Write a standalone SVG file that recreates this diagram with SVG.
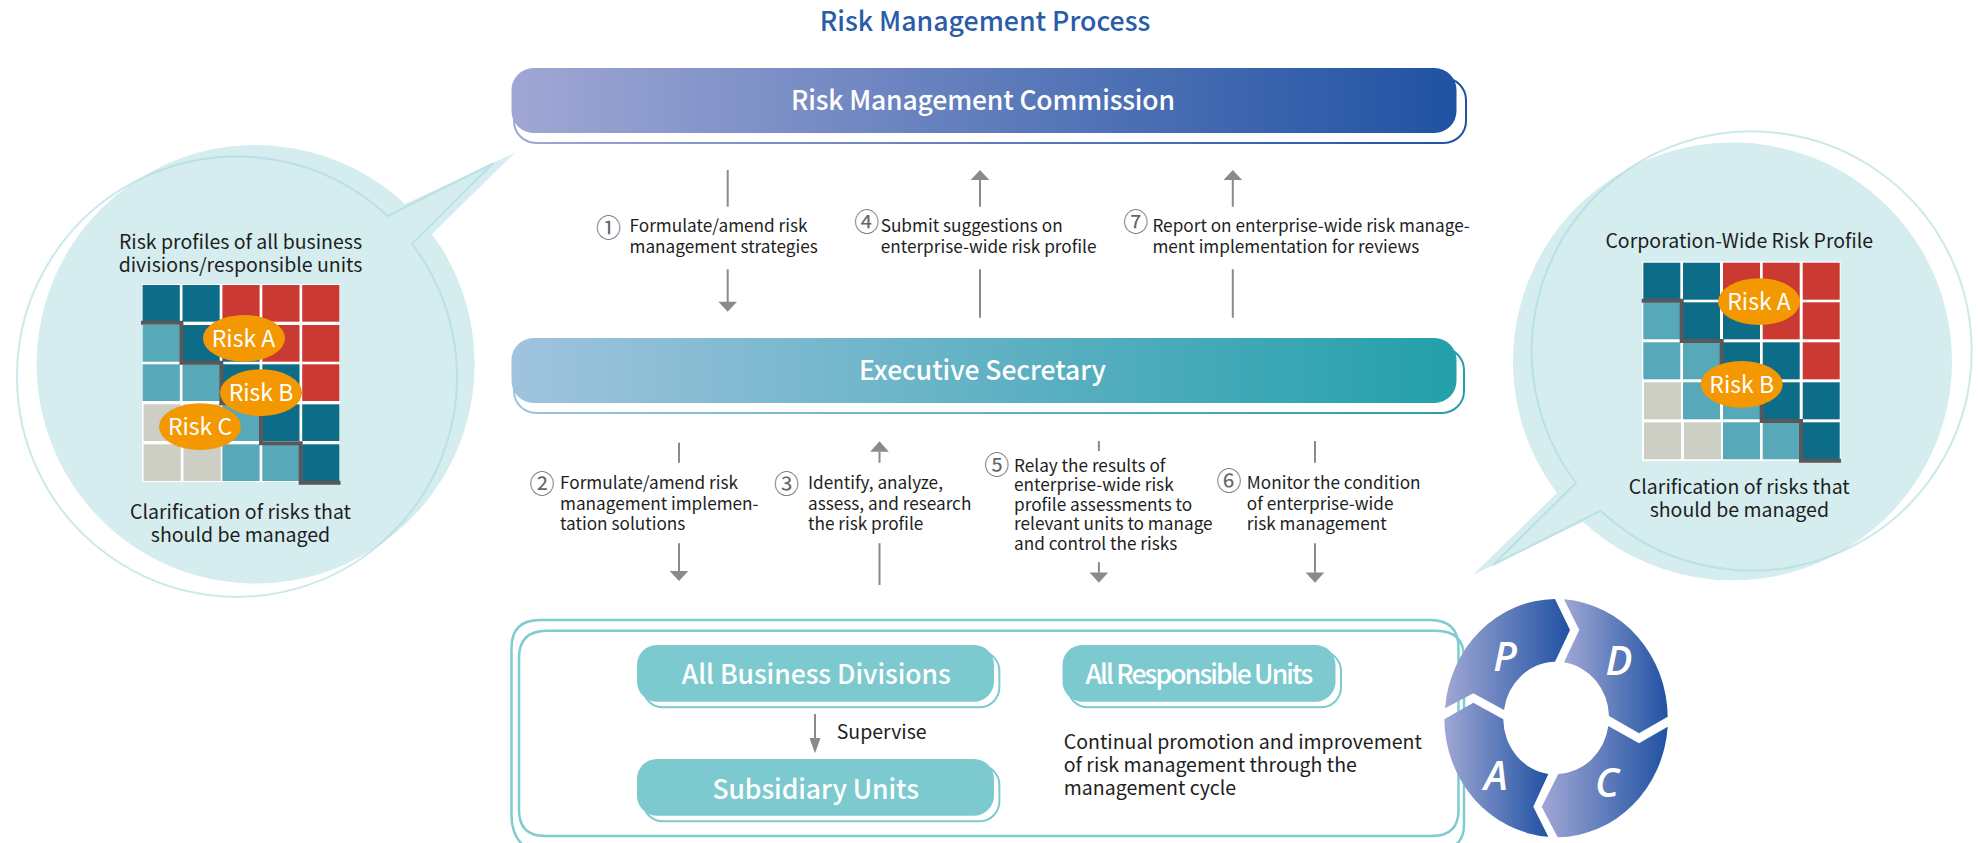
<svg xmlns="http://www.w3.org/2000/svg" width="1978" height="843" viewBox="0 0 1978 843">
<defs>
<linearGradient id="gBlue"><stop offset="0" stop-color="#a0a7d4"/><stop offset="1" stop-color="#2052a3"/></linearGradient>
<linearGradient id="gBlueS" gradientUnits="userSpaceOnUse" x1="514" y1="0" x2="1466" y2="0"><stop offset="0" stop-color="#a0a7d4"/><stop offset="1" stop-color="#2052a3"/></linearGradient>
<linearGradient id="gTeal"><stop offset="0" stop-color="#a0c3de"/><stop offset="1" stop-color="#23a0aa"/></linearGradient>
<linearGradient id="gTealS" gradientUnits="userSpaceOnUse" x1="514" y1="0" x2="1464" y2="0"><stop offset="0" stop-color="#a0c3de"/><stop offset="1" stop-color="#23a0aa"/></linearGradient>
</defs>
<style>
text{font-family:"Noto Sans CJK TC","Noto Sans CJK SC","Noto Sans",sans-serif}
.t{font-size:17.2px;fill:#1e1e1e}
.t2{font-size:19.5px;fill:#1e1e1e}
.c{text-anchor:middle}
.n{font-size:25px;fill:#666;text-anchor:middle}
.b{font-size:26.500px;fill:#fff;text-anchor:middle;font-weight:500}
.rk{font-size:23px;fill:#fff;text-anchor:middle}
.pd{font-family:"Open Sans",sans-serif;font-style:italic;font-weight:600;font-size:40px;fill:#fff;text-anchor:middle}
.ln{stroke:#8a8a8a;stroke-width:2;fill:none}
.hd{fill:#8a8a8a}
.d{fill:#0d6c88}.m{fill:#57a8b8}.r{fill:#cb3a32}.g{fill:#cdcfc4}
.o{fill:#f39800}
.st{fill:none;stroke:#595757;stroke-width:4}
.bub{fill:#d5edef}
.bo{fill:none;stroke:#a8d8dd;stroke-opacity:.6;stroke-width:2}
.btn{fill:#7ccacf}
.bto{fill:none;stroke:#7ccacf;stroke-width:2}
.cl rect{width:37.200px;height:36.700px}
.cr rect{width:37px;height:37px}
</style>
<rect width="1978" height="843" fill="#fff"/>
<text id="title" x="985" y="31" class="c" style="font-size:26.700px;fill:#2a5caa;font-weight:500">Risk Management Process</text>

<g id="bubble-left">
<path class="bub" d="M405,204L515,152.700L432,234A219,219.500 0 1 1 36.600,365.500A219,219.500 0 0 1 405,204Z"/>
<path class="bo" d="M387.500,216L493,163.300L412,244A220,219.700 0 1 1 17,376.400A220,219.700 0 0 1 387.500,216Z"/>
<rect x="142" y="284" width="198" height="198" fill="#fff"/>
<g class="cl">
<rect class="d" x="142.600" y="285"/><rect class="d" x="182.500" y="285"/><rect class="r" x="222.400" y="285"/><rect class="r" x="262.300" y="285"/><rect class="r" x="302.200" y="285"/>
<rect class="m" x="142.600" y="325"/><rect class="d" x="182.500" y="325"/><rect class="d" x="222.400" y="325"/><rect class="r" x="262.300" y="325"/><rect class="r" x="302.200" y="325"/>
<rect class="m" x="142.600" y="364.300"/><rect class="m" x="182.500" y="364.300"/><rect class="d" x="222.400" y="364.300"/><rect class="d" x="262.300" y="364.300"/><rect class="r" x="302.200" y="364.300"/>
<rect class="g" x="143.600" y="404.300"/><rect class="g" x="183.500" y="404.300"/><rect class="m" x="222.400" y="404.300"/><rect class="d" x="262.300" y="404.300"/><rect class="d" x="302.200" y="404.300"/>
<rect class="g" x="143.600" y="444.300"/><rect class="g" x="183.500" y="444.300"/><rect class="m" x="222.400" y="444.300"/><rect class="m" x="262.300" y="444.300"/><rect class="d" x="302.200" y="444.300"/>
</g>
<path class="st" d="M141,322.700H181.400V362.700H221.300V403.300H261V443.300H300.700V482.700H340.500"/>
<ellipse class="o" cx="244" cy="338.300" rx="41" ry="23.400"/><text class="rk" x="243.500" y="346.700">Risk A</text>
<ellipse class="o" cx="261" cy="392.700" rx="41" ry="23.400"/><text class="rk" x="261" y="401.100">Risk B</text>
<ellipse class="o" cx="200" cy="426.700" rx="41" ry="23.400"/><text class="rk" x="200" y="435.100">Risk C</text>
<text class="t2 c" x="240.500" y="249">Risk profiles of all business</text>
<text class="t2 c" x="240.500" y="271.700">divisions/responsible units</text>
<text class="t2 c" x="240.500" y="519">Clarification of risks that</text>
<text class="t2 c" x="240.500" y="541.700">should be managed</text>
</g>

<g id="bubble-right">
<path class="bub" d="M1557,493L1472.700,575L1583,521.700A219.500,219 0 0 0 1952,362A219.500,219 0 1 0 1557,493Z"/>
<path class="bo" d="M1576,483L1493,565L1600.700,510.700A220,219.500 0 0 0 1971.700,351A220,219.500 0 1 0 1576,483Z"/>
<rect x="1642" y="261.500" width="198.500" height="199.500" fill="#fff"/>
<g class="cr">
<rect class="d" x="1643.300" y="262.700"/><rect class="d" x="1683" y="262.700"/><rect class="r" x="1723" y="262.700"/><rect class="r" x="1762.700" y="262.700"/><rect class="r" x="1802.700" y="262.700"/>
<rect class="m" x="1643.300" y="302.300"/><rect class="d" x="1683" y="302.300"/><rect class="d" x="1723" y="302.300"/><rect class="r" x="1762.700" y="302.300"/><rect class="r" x="1802.700" y="302.300"/>
<rect class="m" x="1643.300" y="342.300"/><rect class="m" x="1683" y="342.300"/><rect class="d" x="1723" y="342.300"/><rect class="d" x="1762.700" y="342.300"/><rect class="r" x="1802.700" y="342.300"/>
<rect class="g" x="1644" y="382.300"/><rect class="m" x="1683" y="382.300"/><rect class="m" x="1723" y="382.300"/><rect class="d" x="1762.700" y="382.300"/><rect class="d" x="1802.700" y="382.300"/>
<rect class="g" x="1644" y="422.300"/><rect class="g" x="1684" y="422.300"/><rect class="m" x="1723" y="422.300"/><rect class="m" x="1762.700" y="422.300"/><rect class="d" x="1802.700" y="422.300"/>
</g>
<path class="st" d="M1641.700,300.700H1681.700V341H1721.700V381H1761.700V421H1801V460.700H1841"/>
<ellipse class="o" cx="1759" cy="301.700" rx="41" ry="23.400"/><text class="rk" x="1759" y="310.100">Risk A</text>
<ellipse class="o" cx="1741.700" cy="384.300" rx="41" ry="23.400"/><text class="rk" x="1741.700" y="392.700">Risk B</text>
<text class="t2 c" x="1739.300" y="247.500">Corporation-Wide Risk Profile</text>
<text class="t2 c" x="1739.300" y="494">Clarification of risks that</text>
<text class="t2 c" x="1739.300" y="516.700">should be managed</text>
</g>

<g id="commission">
<rect x="514" y="78" width="952" height="65" rx="22" fill="none" stroke="url(#gBlueS)" stroke-width="2"/>
<rect x="511.500" y="68" width="945" height="65" rx="22" fill="url(#gBlue)"/>
<text class="b" x="983" y="110" textLength="384">Risk Management Commission</text>
</g>
<g id="secretary">
<rect x="514" y="348" width="950" height="65" rx="22" fill="none" stroke="url(#gTealS)" stroke-width="2"/>
<rect x="511.500" y="338" width="945" height="65" rx="22" fill="url(#gTeal)"/>
<text class="b" x="982.500" y="380" textLength="247">Executive Secretary</text>
</g>

<g id="connectors">
<path class="ln" d="M727.700,170V206.700M727.700,269.300V302"/><path class="hd" d="M718.400,301.700H737L727.700,311.700Z"/>
<path class="ln" d="M980,180V206.700M980,269.300V317.700"/><path class="hd" d="M970.700,180H989.300L980,170Z"/>
<path class="ln" d="M1232.800,180V206.700M1232.800,269.300V317.700"/><path class="hd" d="M1223.500,180H1242.100L1232.800,170Z"/>
<path class="ln" d="M679,442.700V462.700M679,543.300V571"/><path class="hd" d="M669.700,571H688.300L679,581Z"/>
<path class="ln" d="M879.500,451.700V462.700M879.500,543.300V585"/><path class="hd" d="M870.200,451.700H888.800L879.500,441.300Z"/>
<path class="ln" d="M1098.900,441V451M1098.900,562.300V572.500"/><path class="hd" d="M1089.600,572.500H1108.200L1098.900,582.700Z"/>
<path class="ln" d="M1315,441V462.700M1315,543.300V572.500"/><path class="hd" d="M1305.700,572.500H1324.300L1315,582.700Z"/>
<path class="ln" d="M815,714V738"/><path class="hd" d="M809.500,738H820.500L815,753.300Z"/>
</g>

<g id="labels">
<text class="n" x="608.400" y="236.500">①</text>
<text class="t" x="629.500" y="231.700">Formulate/amend risk</text><text class="t" x="629.500" y="252.700">management strategies</text>
<text class="n" x="866.700" y="231">④</text>
<text class="t" x="880.700" y="231.700">Submit suggestions on</text><text class="t" x="880.700" y="252.700">enterprise-wide risk profile</text>
<text class="n" x="1135.800" y="231">⑦</text>
<text class="t" x="1152.400" y="231.700">Report on enterprise-wide risk manage-</text><text class="t" x="1152.400" y="252.700">ment implementation for reviews</text>
<text class="n" x="542" y="492.500">②</text>
<text class="t" x="560" y="489">Formulate/amend risk</text><text class="t" x="560" y="510">management implemen-</text><text class="t" x="560" y="530">tation solutions</text>
<text class="n" x="786.400" y="492.500">③</text>
<text class="t" x="808" y="489">Identify, analyze,</text><text class="t" x="808" y="510">assess, and research</text><text class="t" x="808" y="530">the risk profile</text>
<text class="n" x="996.800" y="473.500">⑤</text>
<text class="t" x="1014" y="471.700">Relay the results of</text><text class="t" x="1014" y="490.700">enterprise-wide risk</text><text class="t" x="1014" y="510.700">profile assessments to</text><text class="t" x="1014" y="530">relevant units to manage</text><text class="t" x="1014" y="550">and control the risks</text>
<text class="n" x="1229" y="490">⑥</text>
<text class="t" x="1246.800" y="489">Monitor the condition</text><text class="t" x="1246.800" y="510">of enterprise-wide</text><text class="t" x="1246.800" y="530">risk management</text>
<text class="t2" x="836.700" y="739">Supervise</text>
<text class="t2" x="1063.800" y="749">Continual promotion and improvement</text><text class="t2" x="1063.800" y="771.700">of risk management through the</text><text class="t2" x="1063.800" y="795">management cycle</text>
</g>

<g id="frame">
<path d="M530,850Q511.500,840 511.500,815V648Q511.500,620 540,620H1430Q1458.500,620 1458.500,648V810Q1458.500,836 1432,836H545Q519,836 519,810V658Q519,630.700 547,630.700H1436Q1464,630.700 1464,658V825Q1464,845 1445,850" fill="none" stroke="#7fccd0" stroke-width="2.500"/>
</g>

<g id="all-business-divisions">
<rect class="bto" x="643" y="651" width="356.400" height="56.300" rx="20"/>
<rect class="btn" x="637" y="645" width="357" height="56.700" rx="20"/>
<text class="b" x="816.300" y="684.300" textLength="269">All Business Divisions</text>
</g>
<g id="subsidiary-units">
<rect class="bto" x="643" y="765" width="356.400" height="56.300" rx="20"/>
<rect class="btn" x="637" y="759" width="357" height="56.700" rx="20"/>
<text class="b" x="815.700" y="798.700" textLength="206.600">Subsidiary Units</text>
</g>
<g id="all-responsible-units">
<rect class="bto" x="1068" y="651" width="273" height="56.300" rx="20"/>
<rect class="btn" x="1062.500" y="645" width="273" height="56.700" rx="20"/>
<text class="b" x="1199.300" y="684.300" textLength="227.700">All Responsible Units</text>
</g>

<g id="pdca">
<path fill="url(#gBlue)" d="M1555,599L1570,630L1555,661.700A52.800,55.800 0 0 0 1504,710L1473.300,693.300L1445,708.300A111.700,119 0 0 1 1555,599Z"/>
<path fill="url(#gBlue)" d="M1564,599.300L1579.300,630L1564,662.300A52.800,55.800 0 0 1 1609,716L1639,733.300L1667.700,716.700A111.700,119 0 0 0 1564,599.300Z"/>
<path fill="url(#gBlue)" d="M1667.700,726.700L1639,743.300L1608.300,726A52.800,55.800 0 0 1 1558.300,774L1541.700,806.700L1557.700,837.300A111.700,119 0 0 0 1667.700,726.700Z"/>
<path fill="url(#gBlue)" d="M1548.300,774L1533.300,806.700L1548.300,836.700A111.700,119 0 0 1 1444.300,719.300L1473.300,702.700L1503.300,719.300A52.800,55.800 0 0 0 1548.300,774Z"/>
<text class="pd" x="1505" y="671">P</text>
<text class="pd" x="1619" y="675">D</text>
<text class="pd" x="1607" y="796.700">C</text>
<text class="pd" x="1496" y="790">A</text>
</g>
</svg>
